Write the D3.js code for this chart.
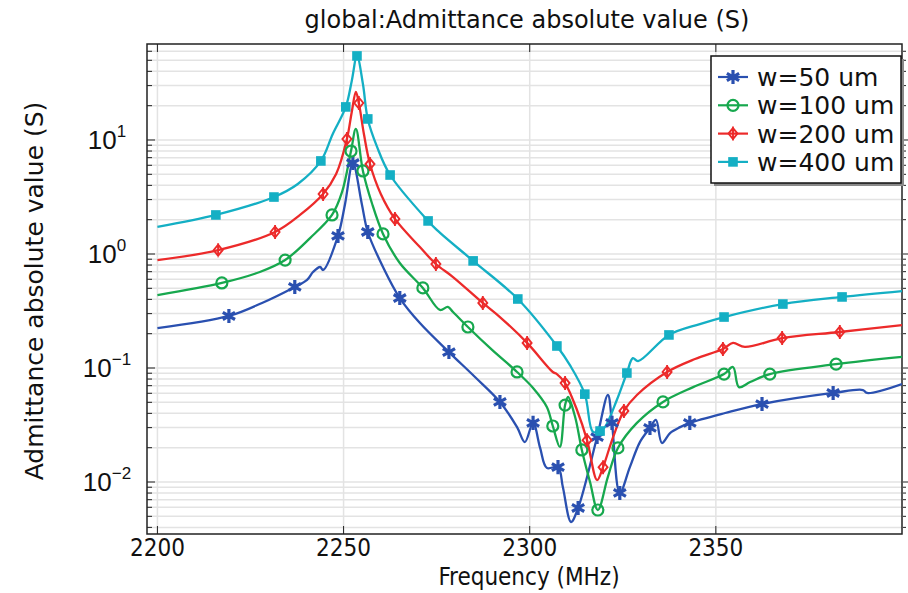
<!DOCTYPE html>
<html>
<head>
<meta charset="utf-8">
<script src="https://cdn.jsdelivr.net/npm/d3@7"></script>
<style>
  body { margin: 0; background: #fff; }
  svg { display: block; }
</style>
</head>
<body>
<svg id="chart" width="908" height="593"></svg>
<script>
// Admittance magnitude |Y| (S) versus frequency (MHz) for four electrode widths.

const seriesNames = ["w=50 um", "w=100 um", "w=200 um", "w=400 um"];

const freqW50 = [2200, 2219.2, 2228.1, 2236.9, 2240.2, 2241.8, 2243.7, 2244.5, 2248.5, 2250.4, 2252.5, 2254.9, 2256.5, 2260.6, 2265.1, 2270.5, 2278.3, 2285.3, 2292.0, 2296.6, 2298.7, 2300.9, 2302.8, 2304.6, 2307.6, 2308.9, 2311.1, 2313.0, 2318.1, 2321.0, 2322.1, 2324.2, 2326.9, 2329.6, 2332.3, 2333.9, 2335.5, 2337.7, 2340.4, 2343.0, 2352.5, 2362.4, 2381.5, 2389.5, 2390.6, 2400];
const admW50 = [0.224, 0.286, 0.372, 0.514, 0.592, 0.695, 0.769, 0.724, 1.44, 2.75, 6.28, 2.75, 1.56, 0.769, 0.411, 0.248, 0.138, 0.0834, 0.0504, 0.0303, 0.0224, 0.033, 0.0199, 0.0133, 0.0135, 0.00904, 0.00446, 0.00592, 0.0248, 0.058, 0.033, 0.00802, 0.0135, 0.0224, 0.0298, 0.035, 0.022, 0.0269, 0.0303, 0.033, 0.0403, 0.0483, 0.0604, 0.0641, 0.0604, 0.0724];
const markW50 = [2219.2, 2236.9, 2248.5, 2252.5, 2256.5, 2265.1, 2278.3, 2292.0, 2300.9, 2307.6, 2313.0, 2318.1, 2322.1, 2324.2, 2332.3, 2343.0, 2362.4, 2381.5];

const freqW100 = [2200, 2217.3, 2227.5, 2234.3, 2241.0, 2246.9, 2249.6, 2252.0, 2253.3, 2255.2, 2257.6, 2260.6, 2265.1, 2271.3, 2275.9, 2278.0, 2279.4, 2283.4, 2289.9, 2296.6, 2300.9, 2304.6, 2306.2, 2308.1, 2309.5, 2310.3, 2312.2, 2314.0, 2316.2, 2318.3, 2321.0, 2323.7, 2328.8, 2335.8, 2343.9, 2352.2, 2354.6, 2356.2, 2359.2, 2364.5, 2382.3, 2400];
const admW100 = [0.436, 0.557, 0.695, 0.885, 1.38, 2.20, 3.50, 8.0, 12.5, 5.35, 2.80, 1.50, 0.834, 0.504, 0.323, 0.343, 0.31, 0.229, 0.144, 0.0923, 0.0668, 0.0455, 0.031, 0.0203, 0.0473, 0.0557, 0.0372, 0.0191, 0.01, 0.00568, 0.0111, 0.0199, 0.033, 0.0504, 0.068, 0.0885, 0.102, 0.068, 0.0753, 0.0885, 0.108, 0.125];
const markW100 = [2217.3, 2234.3, 2246.9, 2252.0, 2255.2, 2260.6, 2271.3, 2283.4, 2296.6, 2306.2, 2309.5, 2314.0, 2318.3, 2323.7, 2335.8, 2352.2, 2364.5, 2382.3];

const freqW200 = [2200, 2216.3, 2231.6, 2238.3, 2244.5, 2248.0, 2250.9, 2252.2, 2253.3, 2254.1, 2255.5, 2257.1, 2260.0, 2263.8, 2270.5, 2274.8, 2279.4, 2287.4, 2292.0, 2299.3, 2306.2, 2307.3, 2309.5, 2312.7, 2315.4, 2318.1, 2319.7, 2322.4, 2325.3, 2328.8, 2336.9, 2344.4, 2351.9, 2354.6, 2357.8, 2367.8, 2383.3, 2400];
const admW200 = [0.885, 1.08, 1.56, 2.20, 3.36, 5.03, 10.2, 17.6, 26.4, 21.1, 11.1, 6.15, 3.36, 2.03, 1.15, 0.817, 0.628, 0.372, 0.28, 0.166, 0.0923, 0.0885, 0.0738, 0.0428, 0.0233, 0.0104, 0.0135, 0.0248, 0.042, 0.058, 0.0923, 0.12, 0.147, 0.166, 0.153, 0.183, 0.207, 0.238];
const markW200 = [2216.3, 2231.6, 2244.5, 2250.9, 2254.1, 2257.1, 2263.8, 2274.8, 2287.4, 2299.3, 2309.5, 2315.4, 2319.7, 2325.3, 2336.9, 2351.9, 2367.8, 2383.3];

const freqW400 = [2200, 2215.7, 2231.3, 2237.7, 2243.9, 2247.1, 2250.6, 2252.2, 2253.6, 2255.2, 2256.5, 2259.0, 2262.5, 2272.7, 2275.1, 2284.8, 2296.8, 2307.3, 2310.8, 2314.8, 2317.0, 2318.9, 2320.2, 2323.4, 2326.1, 2327.7, 2329.1, 2337.4, 2345.7, 2352.2, 2368.0, 2383.9, 2400];
const admW400 = [1.73, 2.20, 3.16, 4.11, 6.55, 11.3, 19.5, 33.0, 54.6, 31.0, 15.3, 8.7, 4.93, 1.95, 1.62, 0.87, 0.403, 0.156, 0.106, 0.059, 0.0275, 0.028, 0.0303, 0.0524, 0.0904, 0.122, 0.115, 0.195, 0.243, 0.28, 0.364, 0.42, 0.473];
const markW400 = [2215.7, 2231.3, 2243.9, 2250.6, 2253.6, 2256.5, 2262.5, 2272.7, 2284.8, 2296.8, 2307.3, 2314.8, 2318.9, 2326.1, 2337.4, 2352.2, 2368.0, 2383.9];

const xTicks = [2200, 2250, 2300, 2350];
const yDecades = [-2, -1, 0, 1];

const colors = ["#2a50b0", "#17a84e", "#ec2a2a", "#14afc4"];
const markerKinds = ["asterisk", "circle", "diamond", "square"];

const series = [
  { name: seriesNames[0], f: freqW50,  v: admW50,  m: markW50 },
  { name: seriesNames[1], f: freqW100, v: admW100, m: markW100 },
  { name: seriesNames[2], f: freqW200, v: admW200, m: markW200 },
  { name: seriesNames[3], f: freqW400, v: admW400, m: markW400 }
].map((s, i) => ({ ...s, color: colors[i], kind: markerKinds[i],
  pts: s.f.map((f, j) => ({ f, v: s.v[j] })) }));

const plot = { left: 147, right: 902, top: 44, bottom: 534 };
const x = d3.scaleLinear().domain([2197.2, 2400]).range([plot.left, plot.right]);
const y = d3.scaleLog().domain([Math.pow(10, -2.456), Math.pow(10, 1.842)]).range([plot.bottom, plot.top]);

const svg = d3.select("#chart");
svg.append("rect").attr("width", 908).attr("height", 593).attr("fill", "#fff");

svg.append("defs").append("clipPath").attr("id", "plotClip")
  .append("rect").attr("x", plot.left).attr("y", plot.top)
  .attr("width", plot.right - plot.left).attr("height", plot.bottom - plot.top);

// horizontal grid on every log sub-division
const [yLo, yHi] = y.domain();
const yMinor = [];
for (let k = -3; k <= 2; k++) for (let m = 1; m <= 9; m++) {
  const v = m * Math.pow(10, k);
  if (v >= yLo && v <= yHi) yMinor.push({ v, major: m === 1 });
}
const grid = svg.append("g");
grid.selectAll("line.hg").data(yMinor).join("line")
  .attr("x1", plot.left).attr("x2", plot.right)
  .attr("y1", d => y(d.v)).attr("y2", d => y(d.v))
  .attr("stroke", "#e3e3e3").attr("stroke-width", 1.5);
grid.selectAll("line.vg").data(xTicks).join("line")
  .attr("y1", plot.top).attr("y2", plot.bottom)
  .attr("x1", d => x(d)).attr("x2", d => x(d))
  .attr("stroke", "#e3e3e3").attr("stroke-width", 1.5);

// frame and ticks
const axes = svg.append("g").attr("stroke", "#222").attr("fill", "none");
axes.append("rect").attr("x", plot.left).attr("y", plot.top)
  .attr("width", plot.right - plot.left).attr("height", plot.bottom - plot.top)
  .attr("stroke-width", 1.5);
yMinor.forEach(d => {
  const len = d.major ? 8 : 5;
  axes.append("line").attr("x1", plot.left).attr("x2", plot.left + len)
    .attr("y1", y(d.v)).attr("y2", y(d.v)).attr("stroke-width", 1);
  axes.append("line").attr("x1", plot.right + 1).attr("x2", plot.right + 1 + (d.major ? 5 : 3))
    .attr("y1", y(d.v)).attr("y2", y(d.v)).attr("stroke-width", 1);
});
xTicks.forEach(t => {
  axes.append("line").attr("x1", x(t)).attr("x2", x(t))
    .attr("y1", plot.bottom).attr("y2", plot.bottom - 8).attr("stroke-width", 1);
  axes.append("line").attr("x1", x(t)).attr("x2", x(t))
    .attr("y1", plot.top).attr("y2", plot.top + 8).attr("stroke-width", 1);
});

// tick labels
svg.append("g").selectAll("text").data(xTicks).join("text")
  .attr("x", d => x(d)).attr("y", plot.bottom + 22)
  .attr("text-anchor", "middle")
  .attr("font-family", "DejaVu Sans Condensed, DejaVu Sans").attr("font-stretch", "condensed")
  .attr("font-size", 24).attr("fill", "#111")
  .text(d => d);

const yl = svg.append("g").attr("font-family", "Liberation Sans").attr("fill", "#111");
yDecades.forEach(k => {
  const t = yl.append("text").attr("x", 107).attr("y", y(Math.pow(10, k)) + 9)
    .attr("text-anchor", "middle").attr("font-size", 26);
  t.append("tspan").text("10");
  t.append("tspan").attr("dy", -12).attr("font-size", 17)
    .text(k < 0 ? "\u2212" + Math.abs(k) : String(k));
});

// titles
svg.append("text").attr("x", 527).attr("y", 28)
  .attr("text-anchor", "middle").attr("font-family", "DejaVu Sans")
  .attr("font-size", 24).attr("fill", "#111")
  .text("global:Admittance absolute value (S)");
svg.append("text").attr("x", 529).attr("y", 585)
  .attr("text-anchor", "middle")
  .attr("font-family", "DejaVu Sans Condensed, DejaVu Sans").attr("font-stretch", "condensed")
  .attr("font-size", 24).attr("fill", "#111").text("Frequency (MHz)");
svg.append("text")
  .attr("transform", `translate(43, ${(plot.top + plot.bottom) / 2 + 2}) rotate(-90)`)
  .attr("text-anchor", "middle").attr("font-family", "DejaVu Sans")
  .attr("font-size", 25).attr("fill", "#111").text("Admittance absolute value (S)");

// curves
const line = d3.line().x(d => x(d.f)).y(d => y(d.v)).curve(d3.curveCatmullRom.alpha(0.5));
const curves = svg.append("g").attr("clip-path", "url(#plotClip)");
series.forEach(s => {
  curves.append("path").datum(s.pts).attr("d", line)
    .attr("fill", "none").attr("stroke", s.color).attr("stroke-width", 2.3)
    .attr("stroke-linejoin", "round");
});

// value on the curve at frequency f (linear in log space between samples)
function valueAt(s, f) {
  const i = Math.max(1, Math.min(s.f.length - 1, d3.bisectLeft(s.f, f)));
  const f0 = s.f[i - 1], f1 = s.f[i];
  const t = (f - f0) / (f1 - f0);
  return Math.pow(10, Math.log10(s.v[i - 1]) * (1 - t) + Math.log10(s.v[i]) * t);
}

function drawMarker(g, kind, color, cx, cy) {
  if (kind === "asterisk") {
    g.append("path").attr("transform", `translate(${cx},${cy})`)
      .attr("d", d3.symbol(d3.symbolAsterisk, 140)())
      .attr("fill", "none").attr("stroke", color).attr("stroke-width", 3.2);
  } else if (kind === "circle") {
    g.append("circle").attr("cx", cx).attr("cy", cy).attr("r", 5.5)
      .attr("fill", "none").attr("stroke", color).attr("stroke-width", 2.2);
  } else if (kind === "diamond") {
    g.append("path").attr("transform", `translate(${cx},${cy})`)
      .attr("d", "M0,-5.5L4.5,0L0,5.5L-4.5,0Z M0,-7L0,7")
      .attr("fill", "none").attr("stroke", color).attr("stroke-width", 1.9);
  } else {
    g.append("rect").attr("x", cx - 4.8).attr("y", cy - 4.8)
      .attr("width", 9.6).attr("height", 9.6).attr("fill", color);
  }
}

const marks = svg.append("g").attr("clip-path", "url(#plotClip)");
series.forEach(s => {
  s.m.forEach(f => drawMarker(marks, s.kind, s.color, x(f), y(valueAt(s, f))));
});

// legend
const lg = svg.append("g");
const lx = 711, ly = 56, lw = 190, lh = 127;
lg.append("rect").attr("x", lx + 3).attr("y", ly + 3).attr("width", lw).attr("height", lh)
  .attr("fill", "#8a8a8a");
lg.append("rect").attr("x", lx).attr("y", ly).attr("width", lw).attr("height", lh)
  .attr("fill", "#fff").attr("stroke", "#111").attr("stroke-width", 1.5);
series.forEach((s, i) => {
  const cy = ly + 21 + i * 28.3;
  lg.append("line").attr("x1", lx + 7).attr("x2", lx + 37).attr("y1", cy).attr("y2", cy)
    .attr("stroke", s.color).attr("stroke-width", 2.2);
  drawMarker(lg, s.kind, s.color, lx + 22, cy);
  lg.append("text").attr("x", lx + 46).attr("y", cy + 9)
    .attr("font-family", "DejaVu Sans").attr("font-size", 25).attr("fill", "#111")
    .text(s.name);
});
</script>
</body>
</html>
